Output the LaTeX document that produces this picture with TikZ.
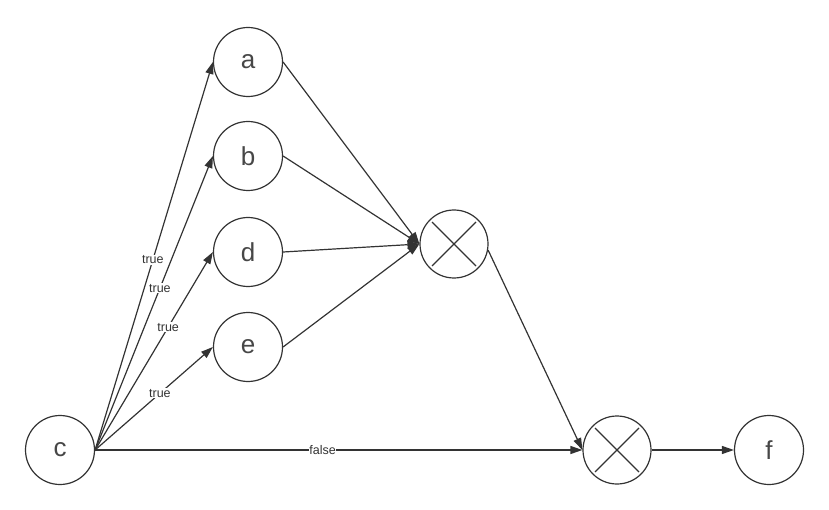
\documentclass[tikz,border=0pt]{standalone}
\usepackage{fontspec}
\setmainfont{Liberation Sans}
\usetikzlibrary{arrows.meta,calc}
\definecolor{ln}{HTML}{333333}
\tikzset{
  vnode/.style={circle, draw=ln, line width=1.2pt, minimum size=69pt, inner sep=0pt, font=\fontsize{26}{26}\selectfont, text=ln!90},
  xnode/.style={circle, draw=ln, line width=1.2pt, minimum size=68pt, inner sep=0pt},
  conn/.style={draw=ln, line width=1.2pt, -{Triangle[length=12pt,width=8pt]}},
  elabel/.style={fill=white, inner sep=1pt, font=\fontsize{12.5}{12.5}\selectfont, text=ln}
}
\begin{document}
\begin{tikzpicture}[x=1pt,y=-1pt]
\useasboundingbox (0,0) rectangle (829,510);
\node[vnode] (a) at (248,62) {a};
\node[vnode] (b) at (248,156) {b};
\node[vnode] (d) at (248,252) {d};
\node[vnode] (e) at (248,347) {e};
\node[vnode] (c) at (60,450) {c};
\node[vnode] (f) at (769,450) {f};
\node[xnode] (x1) at (454,244) {};
\node[xnode] (x2) at (617,450) {};
\foreach \n in {x1,x2}{
  \draw[ln, line width=1.2pt] ($(\n)+(-22,-22)$) -- ($(\n)+(22,22)$);
  \draw[ln, line width=1.2pt] ($(\n)+(22,-22)$) -- ($(\n)+(-22,22)$);
}
\path[conn] (c.east) -- node[elabel, pos=0.49] {true} (a.west);
\path[conn] (c.east) -- node[elabel, pos=0.55] {true} (b.west);
\path[conn] (c.east) -- node[elabel, pos=0.62] {true} (d.west);
\path[conn] (c.east) -- node[elabel, pos=0.55] {true} (e.west);
\path[conn] (c.east) -- node[elabel, pos=0.467, inner sep=0.3pt] {false} (x2.west);
\path[conn] (a.east) -- (x1.west);
\path[conn] (b.east) -- (x1.west);
\path[conn] (d.east) -- (x1.west);
\path[conn] (e.east) -- (x1.west);
\path[conn] (x1.-10) -- (x2.west);
\path[conn] (x2.east) -- (f.west);
\end{tikzpicture}
\end{document}
